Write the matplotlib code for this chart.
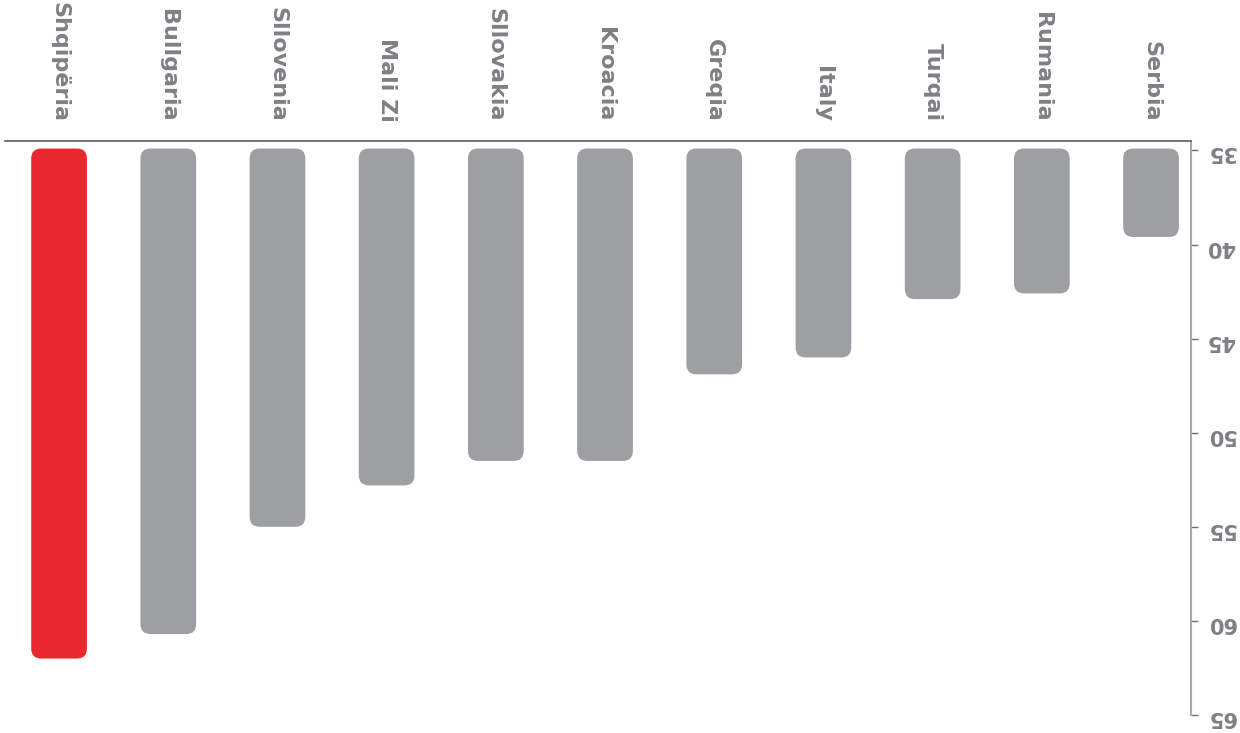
import matplotlib.pyplot as plt
from matplotlib.patches import FancyBboxPatch

countries = ['Shqipëria', 'Bullgaria', 'Sllovenia', 'Mali Zi', 'Sllovakia',
             'Kroacia', 'Greqia', 'Italy', 'Turqai', 'Rumania', 'Serbia']
values = [62.0, 60.7, 55.0, 52.8, 51.5, 51.5, 46.9, 46.0, 42.9, 42.6, 39.6]
yticks = [35, 40, 45, 50, 55, 60, 65]

base = 35
red = '#e8282e'
grey = '#9d9fa3'
text_grey = '#7d8085'

fig = plt.figure(figsize=(12.4, 7.33), dpi=100)
ax = fig.add_axes([5 / 1240, 1 - 715 / 733, 1186 / 1240, 574 / 733])

ax.set_xlim(-0.495, 10.366)
ax.set_ylim(65, 34.5)

# px per data unit, used to keep the corner rounding circular
px_x = 1186 / (10.366 + 0.495)
px_y = 574 / (65 - 34.5)
w = 0.51
r = 10 / px_x

for i, v in enumerate(values):
    col = red if i == 0 else grey
    p = FancyBboxPatch((i - w / 2, base - 0.1), w, v - base + 0.1,
                       boxstyle=f"round,pad=0,rounding_size={r}",
                       mutation_aspect=px_x / px_y,
                       fc=col, ec='none')
    ax.add_patch(p)

# country names above the plot, read top to bottom
ax.xaxis.tick_top()
ax.set_xticks(range(len(countries)))
ax.set_xticklabels(countries, rotation=270, fontsize=16, fontweight='heavy',
                   color=text_grey)
ax.tick_params(axis='x', length=0, pad=14)

ax.yaxis.tick_right()
ax.set_yticks(yticks)
ax.set_yticklabels([str(t) for t in yticks], rotation=180, fontsize=15,
                   fontweight='heavy', color=text_grey)
ax.tick_params(axis='y', length=5, width=1, color='#6d6e71', pad=6)

for s in ['left', 'bottom']:
    ax.spines[s].set_visible(False)
ax.spines['top'].set_color('#5d5e60')
ax.spines['top'].set_linewidth(1.2)
ax.spines['right'].set_color('#a7a9ac')
ax.spines['right'].set_linewidth(1.5)

fig.savefig('out.png', dpi=100, facecolor='white')
